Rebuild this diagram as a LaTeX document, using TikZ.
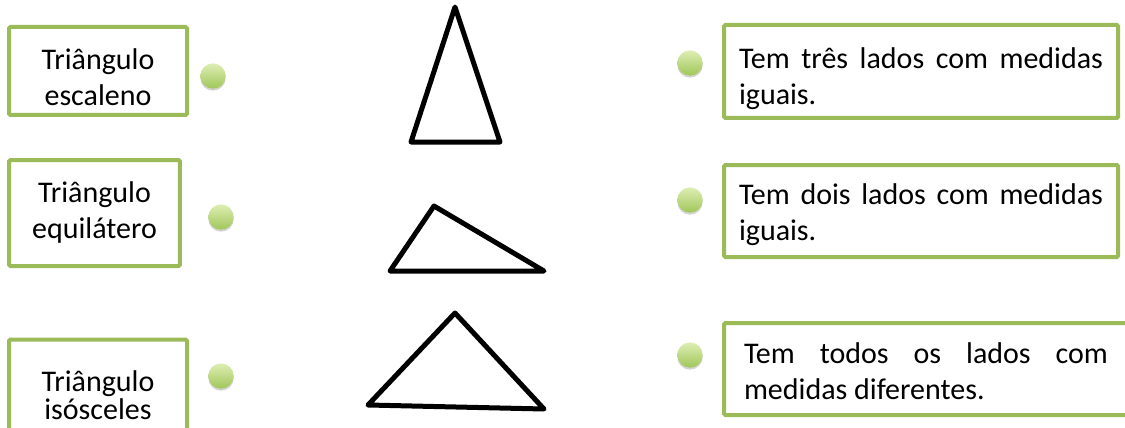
\documentclass[tikz,border=0pt]{standalone}
\usepackage{fontspec}
\setmainfont{Carlito}
\usepackage{tikz}
\usetikzlibrary{positioning,shadows}
\definecolor{boxgreen}{RGB}{155,187,89}
\definecolor{dottop}{RGB}{222,238,180}
\definecolor{dotbottom}{RGB}{160,198,88}
\hyphenpenalty=10000
\exhyphenpenalty=10000
\tikzset{
  name-box/.style={draw=boxgreen, line width=3pt, rounded corners=1pt, fill=white,
    align=center, font=\fontsize{22.5}{27}\selectfont, inner sep=0pt},
  fact-box/.style={draw=boxgreen, line width=3pt, rounded corners=1pt, fill=white,
    align=justify, text width=273pt, font=\fontsize{22.5}{27}\selectfont,
    inner ysep=0pt},
  dot-node/.style={circle, minimum size=19pt, inner sep=0pt,
    top color=dottop, bottom color=dotbottom, draw=none,
    drop shadow={opacity=0.35, shadow xshift=0pt, shadow yshift=-1.5pt}},
  shape-line/.style={line width=3.75pt, line join=round, draw=black}
}
\begin{document}
\begin{tikzpicture}[x=0.75pt, y=-0.75pt]
\useasboundingbox (0,0) rectangle (1125,428);

% names on the left
\node[name-box, minimum width=133.5pt, minimum height=66pt] (escaleno) at (98,71)
  {\rule{0pt}{25pt}Triângulo\\escaleno};
\node[name-box, minimum width=128pt, minimum height=79.5pt] (equilatero) at (94.5,213)
  {Triângulo\\equilátero};
\node[name-box, minimum width=133.5pt, minimum height=80pt,
  font=\fontsize{22.5}{21}\selectfont] (isosceles) at (98,393)
  {\rule{0pt}{19pt}Triângulo\\isósceles};

% dots
\node[dot-node] (dot-escaleno) at (213,76) {};
\node[dot-node] (dot-equilatero) at (221,217) {};
\node[dot-node] (dot-isosceles) at (221,376) {};
\node[dot-node] (dot-tres) at (690,63) {};
\node[dot-node] (dot-dois) at (690,200) {};
\node[dot-node] (dot-todos) at (690,355) {};

% triangles in the middle
\coordinate (a1) at (455,7);
\coordinate (b1) at (411,142);
\coordinate (c1) at (500,142);
\draw[shape-line] (a1) -- (b1) -- (c1) -- cycle;

\coordinate (a2) at (434,206);
\coordinate (b2) at (390,271);
\coordinate (c2) at (544,271);
\draw[shape-line] (a2) -- (b2) -- (c2) -- cycle;

\coordinate (a3) at (455,313);
\coordinate (b3) at (368,405);
\coordinate (c3) at (544,409);
\draw[shape-line] (a3) -- (b3) -- (c3) -- cycle;

% facts on the right
\node[fact-box, minimum width=295.5pt, minimum height=69.75pt] (tres) at (921,71.5)
  {\rule{0pt}{27pt}Tem três lados com medidas iguais.};
\node[fact-box, minimum width=295.5pt, minimum height=69pt] (dois) at (921,211)
  {\rule{0pt}{21pt}Tem dois lados com medidas iguais.};
\node[fact-box, minimum width=303pt, minimum height=69pt] (todos) at (926,369)
  {\rule{0pt}{19pt}Tem todos os lados com medidas diferentes.};
\end{tikzpicture}
\end{document}
